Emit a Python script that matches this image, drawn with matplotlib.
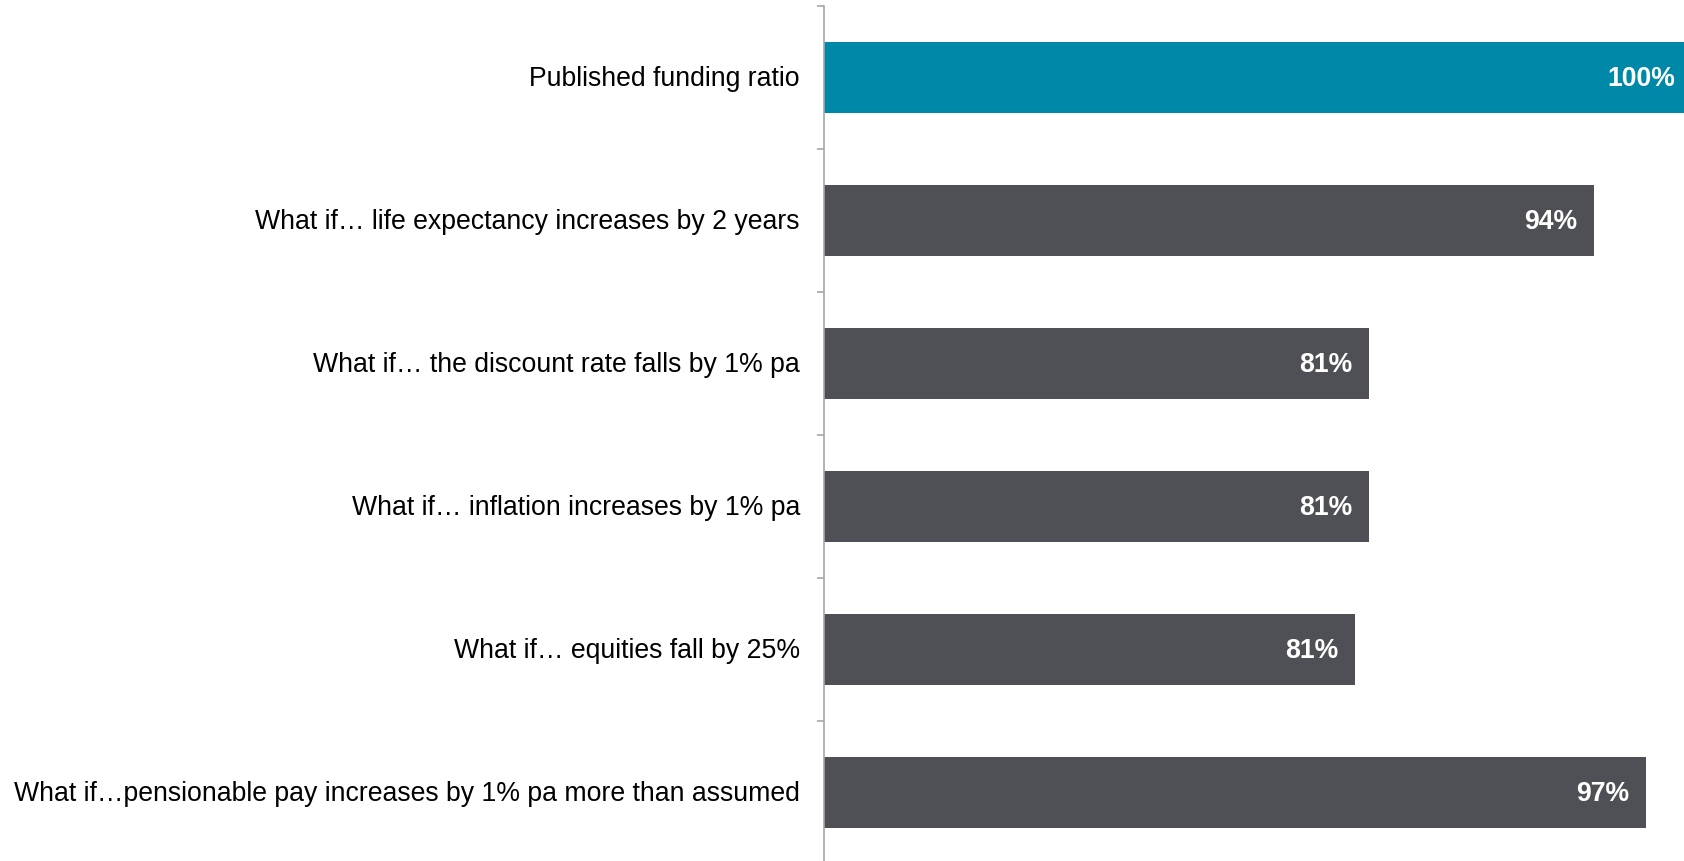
import matplotlib
matplotlib.use("Agg")
import matplotlib.pyplot as plt

plt.rcParams['font.family'] = ['Liberation Sans', 'DejaVu Sans']

categories = [
    "Published funding ratio",
    "What if\u2026 life expectancy increases by 2 years",
    "What if\u2026 the discount rate falls by 1% pa",
    "What if\u2026 inflation increases by 1% pa",
    "What if\u2026 equities fall by 25%",
    "What if\u2026pensionable pay increases by 1% pa more than assumed",
]
values = [100, 94, 81, 81, 80.2, 97]
value_labels = ["100%", "94%", "81%", "81%", "81%", "97%"]
colors = ["#0088A8", "#4F5055", "#4F5055", "#4F5055", "#4F5055", "#4F5055"]

W, H = 1684, 861
fig = plt.figure(figsize=(W / 100, H / 100), dpi=100)
left = 823.5 / W
top_px, bot_px = 6, 864
ax = fig.add_axes([left, 1 - bot_px / H, 1 - left, (bot_px - top_px) / H])

xmin, xmax = 49.45, 99.19
y = list(range(len(categories)))
ax.barh(y, [v - xmin for v in values], left=xmin, height=0.5, color=colors, zorder=2)
ax.set_xlim(xmin, xmax)
ax.set_ylim(len(categories) - 0.5, -0.5)

for yi, v, lab in zip(y, values, value_labels):
    off = -12.5 if v <= xmax else -6.5
    ax.annotate(lab, xy=(min(v, xmax), yi + 0.01), xytext=(off, 0), textcoords='offset points',
                ha='right', va='center', color='white', fontsize=19.2, fontweight='bold', zorder=3)
    ax.annotate(categories[yi], xy=(xmin, yi + 0.01), xytext=(-17, 0), textcoords='offset points',
                ha='right', va='center', fontsize=19.2, color='black')

for s in ['top', 'right', 'bottom']:
    ax.spines[s].set_visible(False)
ax.spines['left'].set_color('#A6A6A6')
ax.spines['left'].set_linewidth(1.2)
ax.set_xticks([])
ax.set_yticks([i - 0.5 for i in range(len(categories) + 1)])
ax.set_yticklabels([])
ax.tick_params(axis='y', direction='out', length=5, color='#A6A6A6', width=1.2)

fig.savefig("out.png", dpi=100)
